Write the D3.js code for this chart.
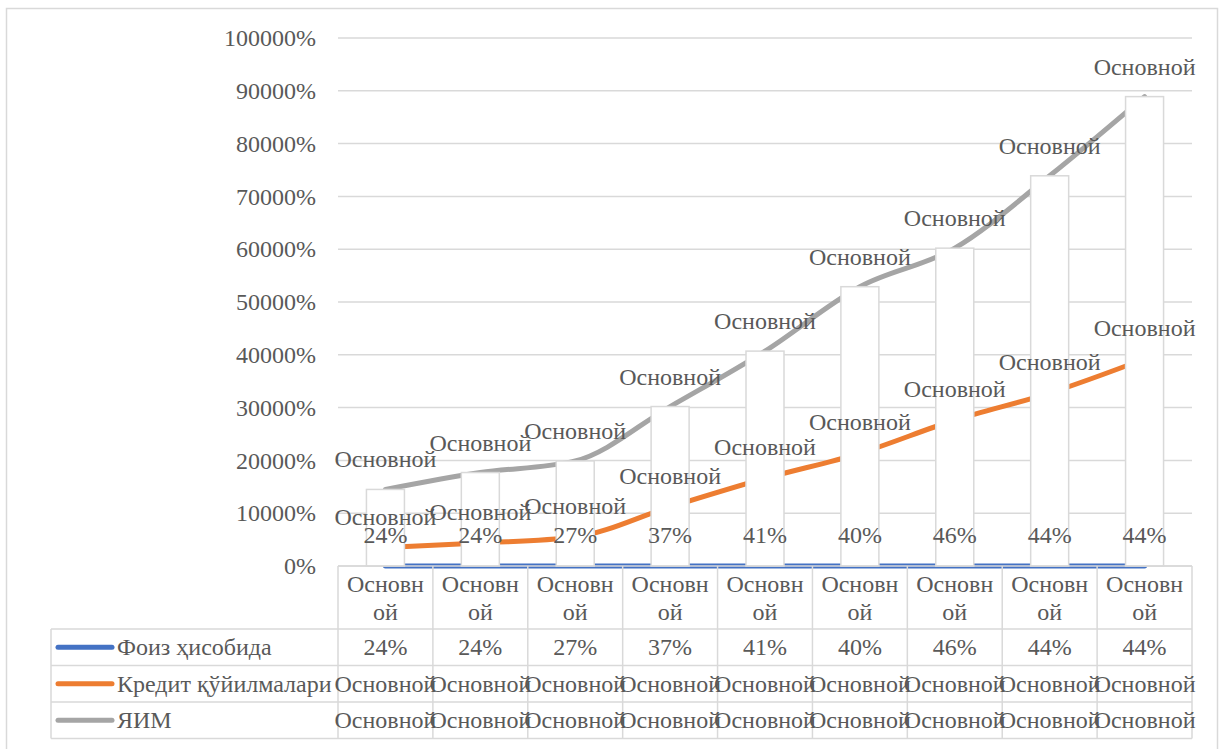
<!DOCTYPE html>
<html>
<head>
<meta charset="utf-8">
<script src="https://cdn.jsdelivr.net/npm/d3@7"></script>
</head>
<body style="margin:0; background:#fff">
<svg width="1221" height="749"></svg>
<script>
// categories and series
var categories = ['Основной', 'Основной', 'Основной', 'Основной', 'Основной', 'Основной', 'Основной', 'Основной', 'Основной']
var seriesNames = ['Фоиз ҳисобида', 'Кредит қўйилмалари', 'ЯИМ']
var seriesColors = ['#4472C4', '#ED7D31', '#A5A5A5']
var percentValues = [0.24, 0.24, 0.27, 0.37, 0.41, 0.40, 0.46, 0.44, 0.44]
var creditValues = [3500, 4350, 5500, 11200, 16600, 21350, 27650, 32750, 39200]
var gdpValues = [14500, 17700, 19900, 30200, 40700, 52900, 60200, 73900, 88900]
var tableRows = [
  percentValues.map((d) => Math.round(d * 100) + '%'),
  categories,
  categories
]
var yTicks = d3.range(0, 100001, 10000)

var svg = d3.select('svg')
var TXT = '#595959'

// every text gets its own font attributes
function styleText (sel) {
  return sel.attr('font-family', 'Liberation Serif').attr('font-size', 24).attr('fill', TXT)
}

// chart frame
svg.append('rect')
  .attr('x', 6.5).attr('y', 8.5).attr('width', 1211).attr('height', 760)
  .attr('fill', 'none').attr('stroke', '#D9D9D9').attr('stroke-width', 1.5)

var plotLeft = 338, plotRight = 1192, plotTop = 38, plotBottom = 566

var x = d3.scaleBand().domain(d3.range(categories.length)).range([plotLeft, plotRight])
var y = d3.scaleLinear().domain([0, 100000]).range([plotBottom, plotTop])
var cx = (i) => x(i) + x.bandwidth() / 2

// gridlines
svg.append('g').selectAll('line')
  .data(yTicks)
  .enter()
  .append('line')
  .attr('x1', plotLeft).attr('x2', plotRight)
  .attr('y1', (d) => y(d)).attr('y2', (d) => y(d))
  .attr('stroke', '#D9D9D9').attr('stroke-width', 1.5)

// y axis labels
var yAxis = svg.append('g')
  .attr('transform', 'translate(' + (plotLeft - 22) + ',0)')
  .call(d3.axisLeft(y).tickValues(yTicks).tickSize(0).tickPadding(0).tickFormat((d) => d + '%'))
yAxis.select('.domain').remove()
styleText(yAxis.selectAll('text')).attr('dy', '0.32em')

// lines (behind the bars)
var line = d3.line()
  .x((d, i) => cx(i))
  .y((d) => y(d))
  .curve(d3.curveMonotoneX)

var lineData = [percentValues, creditValues, gdpValues]
svg.append('g').selectAll('path')
  .data(lineData)
  .enter()
  .append('path')
  .attr('d', line)
  .attr('fill', 'none')
  .attr('stroke', (d, i) => seriesColors[i])
  .attr('stroke-width', 5)
  .attr('stroke-linecap', 'round')

// white columns
svg.append('g').selectAll('rect')
  .data(gdpValues)
  .enter()
  .append('rect')
  .attr('x', (d, i) => cx(i) - 19)
  .attr('width', 38)
  .attr('y', (d) => y(d))
  .attr('height', (d) => plotBottom - y(d))
  .attr('fill', '#fff')
  .attr('stroke', '#D9D9D9').attr('stroke-width', 1.5)

// data labels
var labels = svg.append('g')
styleText(labels.selectAll('.lp')
  .data(percentValues)
  .enter()
  .append('text'))
  .attr('text-anchor', 'middle')
  .attr('x', (d, i) => cx(i))
  .attr('y', (d) => y(d) - 23)
  .text((d) => Math.round(d * 100) + '%')
styleText(labels.selectAll('.lc')
  .data(creditValues)
  .enter()
  .append('text'))
  .attr('text-anchor', 'middle')
  .attr('x', (d, i) => cx(i))
  .attr('y', (d) => y(d) - 23)
  .text((d, i) => categories[i])
styleText(labels.selectAll('.lg')
  .data(gdpValues)
  .enter()
  .append('text'))
  .attr('text-anchor', 'middle')
  .attr('x', (d, i) => cx(i))
  .attr('y', (d) => y(d) - 22)
  .text((d, i) => categories[i])

// data table
var rowTop = 629, rowH = 36.5, tableLeft = 51
var table = svg.append('g')
var grid = table.append('g').attr('stroke', '#D9D9D9').attr('stroke-width', 1.5)

grid.append('line').attr('x1', plotLeft).attr('x2', plotRight).attr('y1', plotBottom).attr('y2', plotBottom)
d3.range(4).forEach((r) => {
  grid.append('line')
    .attr('x1', tableLeft).attr('x2', plotRight)
    .attr('y1', rowTop + r * rowH).attr('y2', rowTop + r * rowH)
})
grid.append('line')
  .attr('x1', tableLeft).attr('x2', tableLeft)
  .attr('y1', rowTop).attr('y2', rowTop + 3 * rowH)
d3.range(categories.length + 1).forEach((i) => {
  var xx = i < categories.length ? x(i) : plotRight
  grid.append('line')
    .attr('x1', xx).attr('x2', xx)
    .attr('y1', plotBottom).attr('y2', rowTop + 3 * rowH)
})

// category header (wrapped)
categories.forEach((c, i) => {
  styleText(table.append('text')).attr('text-anchor', 'middle')
    .attr('x', cx(i)).attr('y', 592).text(c.slice(0, 6))
  styleText(table.append('text')).attr('text-anchor', 'middle')
    .attr('x', cx(i)).attr('y', 620).text(c.slice(6))
})

// table rows
tableRows.forEach((row, r) => {
  var yy = rowTop + r * rowH + rowH / 2
  styleText(table.append('g')
    .selectAll('text')
    .data(row)
    .enter()
    .append('text'))
    .attr('text-anchor', 'middle')
    .attr('x', (d, i) => cx(i))
    .attr('y', yy + 8)
    .text((d) => d)

  // legend key + name
  table.append('line')
    .attr('x1', 58).attr('x2', 112).attr('y1', yy).attr('y2', yy)
    .attr('stroke', seriesColors[r]).attr('stroke-width', 5).attr('stroke-linecap', 'round')
  styleText(table.append('text'))
    .attr('x', 117).attr('y', yy + 8)
    .text(seriesNames[r])
})
</script>
</body>
</html>
